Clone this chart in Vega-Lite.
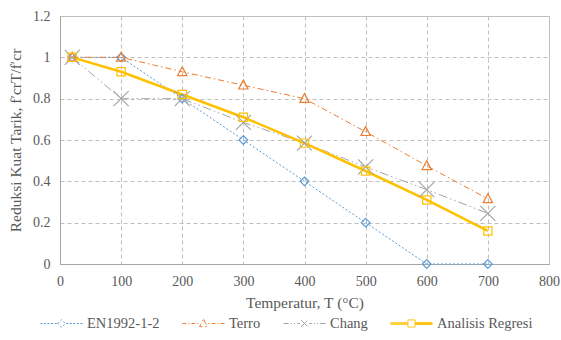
{
  "$schema": "https://vega.github.io/schema/vega-lite/v6.json",
  "width": 489,
  "height": 248,
  "autosize": {"type": "none"},
  "padding": {"left": 60, "top": 16, "right": 12, "bottom": 76},
  "background": "white",
  "config": {
    "font": "Liberation Serif, Times New Roman, serif",
    "view": {"stroke": "#bfbfbf", "strokeWidth": 1},
    "axis": {
      "labelFont": "Liberation Serif, Times New Roman, serif",
      "labelFontSize": 14,
      "labelColor": "#595959",
      "titleFont": "Liberation Serif, Times New Roman, serif",
      "titleFontSize": 15.5,
      "titleFontWeight": "normal",
      "titleColor": "#595959",
      "domainColor": "#a6a6a6",
      "ticks": false,
      "gridColor": "#bfbfbf",
      "gridDash": [4, 3],
      "gridWidth": 1
    },
    "legend": {
      "labelFont": "Liberation Serif, Times New Roman, serif",
      "labelFontSize": 14.5,
      "labelColor": "#595959"
    }
  },
  "data": {
    "values": [
      {"T": 20, "series": "EN1992-1-2", "value": 1},
      {"T": 100, "series": "EN1992-1-2", "value": 1},
      {"T": 200, "series": "EN1992-1-2", "value": 0.8},
      {"T": 300, "series": "EN1992-1-2", "value": 0.6},
      {"T": 400, "series": "EN1992-1-2", "value": 0.4},
      {"T": 500, "series": "EN1992-1-2", "value": 0.2},
      {"T": 600, "series": "EN1992-1-2", "value": 0},
      {"T": 700, "series": "EN1992-1-2", "value": 0},
      {"T": 20, "series": "Terro", "value": 1},
      {"T": 100, "series": "Terro", "value": 1},
      {"T": 200, "series": "Terro", "value": 0.93},
      {"T": 300, "series": "Terro", "value": 0.865},
      {"T": 400, "series": "Terro", "value": 0.8},
      {"T": 500, "series": "Terro", "value": 0.64},
      {"T": 600, "series": "Terro", "value": 0.475},
      {"T": 700, "series": "Terro", "value": 0.315},
      {"T": 20, "series": "Chang", "value": 1},
      {"T": 100, "series": "Chang", "value": 0.8},
      {"T": 200, "series": "Chang", "value": 0.8},
      {"T": 300, "series": "Chang", "value": 0.685},
      {"T": 400, "series": "Chang", "value": 0.585},
      {"T": 500, "series": "Chang", "value": 0.47},
      {"T": 600, "series": "Chang", "value": 0.36},
      {"T": 700, "series": "Chang", "value": 0.245},
      {"T": 20, "series": "Analisis Regresi", "value": 1},
      {"T": 100, "series": "Analisis Regresi", "value": 0.93},
      {"T": 200, "series": "Analisis Regresi", "value": 0.82},
      {"T": 300, "series": "Analisis Regresi", "value": 0.71},
      {"T": 400, "series": "Analisis Regresi", "value": 0.585},
      {"T": 500, "series": "Analisis Regresi", "value": 0.45},
      {"T": 600, "series": "Analisis Regresi", "value": 0.31},
      {"T": 700, "series": "Analisis Regresi", "value": 0.16}
    ]
  },
  "encoding": {
    "x": {
      "field": "T",
      "type": "quantitative",
      "scale": {"domain": [0, 800], "nice": false},
      "axis": {"title": "Temperatur, T (°C)", "values": [0, 100, 200, 300, 400, 500, 600, 700, 800], "labelPadding": 10, "titlePadding": 7, "labelFlush": false}
    },
    "y": {
      "field": "value",
      "type": "quantitative",
      "scale": {"domain": [0, 1.2], "nice": false},
      "axis": {"title": "Reduksi Kuat Tarik, f′crT/f′cr", "values": [0, 0.2, 0.4, 0.6, 0.8, 1, 1.2], "format": "~g", "labelPadding": 10, "titlePadding": 9, "labelFlush": false}
    },
    "color": {
      "field": "series",
      "type": "nominal",
      "scale": {
        "domain": ["EN1992-1-2", "Terro", "Chang", "Analisis Regresi"],
        "range": ["#5b9bd5", "#ed7d31", "#a5a5a5", "#ffc000"]
      },
      "legend": {
        "title": null,
        "orient": "none",
        "legendX": -20,
        "legendY": 286,
        "direction": "horizontal",
        "columns": 4,
        "columnPadding": 20,
        "labelOffset": 4,
        "symbolSize": 1764,
        "symbolStrokeWidth": 1,
        "symbolType": "M-1,0H1",
        "padding": 0,
        "encode": {
          "symbols": {
            "update": {
              "shape": {"signal": "datum.value === 'EN1992-1-2' ? 'M-1,0H-0.9M-0.83,0H-0.73M-0.66,0H-0.56M-0.49,0H-0.39M-0.32,0H-0.22M-0.18,0L0,-0.18L0.18,0L0,0.18ZM0.22,0H0.32M0.39,0H0.49M0.56,0H0.66M0.73,0H0.83M0.9,0H1' : datum.value === 'Terro' ? 'M-1,0H-0.82M-0.72,0H-0.67M-0.57,0H-0.39M-0.29,0H-0.24M0,-0.2L0.19,0.15L-0.19,0.15ZM0.24,0H0.29M0.39,0H0.57M0.67,0H0.72M0.82,0H1' : datum.value === 'Chang' ? 'M-1,0H-0.75M-0.65,0H-0.6M-0.5,0H-0.45M-0.35,0H-0.22M-0.17,-0.17L0.17,0.17M-0.17,0.17L0.17,-0.17M0.22,0H0.35M0.45,0H0.5M0.6,0H0.65M0.75,0H1' : 'M-1,-0.045H-0.17M-1,0H-0.17M-1,0.045H-0.17M0.17,-0.045H1M0.17,0H1M0.17,0.045H1M-0.17,-0.17H0.17V0.17H-0.17Z'"},
              "strokeDash": {"value": []},
              "fill": {"value": "transparent"},
              "fillOpacity": {"value": 0},
              "opacity": {"value": 1},
              "strokeOpacity": {"value": 1}
            }
          }
        }
      }
    }
  },
  "layer": [
    {
      "transform": [{"filter": "datum.series !== 'Analisis Regresi'"}],
      "mark": {"type": "line", "strokeWidth": 1},
      "encoding": {
        "strokeDash": {
          "field": "series",
          "type": "nominal",
          "scale": {
            "domain": ["EN1992-1-2", "Terro", "Chang", "Analisis Regresi"],
            "range": [[2, 2], [6, 3, 1.5, 3], [9, 3, 1.5, 3, 1.5, 3], [1, 0]]
          },
          "legend": null
        }
      }
    },
    {
      "transform": [{"filter": "datum.series === 'Analisis Regresi'"}],
      "mark": {"type": "line", "strokeWidth": 2.5}
    },
    {
      "transform": [{"filter": "datum.series === 'EN1992-1-2'"}],
      "mark": {"type": "point", "filled": false, "size": 225, "strokeWidth": 1.2, "opacity": 1, "shape": "M0,-0.58L0.58,0L0,0.58L-0.58,0Z"}
    },
    {
      "transform": [{"filter": "datum.series === 'Terro'"}],
      "mark": {"type": "point", "filled": false, "size": 225, "strokeWidth": 1.2, "opacity": 1, "shape": "M0,-0.68L0.62,0.5L-0.62,0.5Z"}
    },
    {
      "transform": [{"filter": "datum.series === 'Chang'"}],
      "mark": {"type": "point", "filled": false, "size": 225, "strokeWidth": 1.2, "opacity": 1, "shape": "M-1,-1L1,1M-1,1L1,-1"}
    },
    {
      "transform": [{"filter": "datum.series === 'Analisis Regresi'"}],
      "mark": {"type": "point", "filled": false, "size": 225, "strokeWidth": 1.2, "opacity": 1, "shape": "M-0.55,-0.55H0.55V0.55H-0.55Z"}
    }
  ]
}
